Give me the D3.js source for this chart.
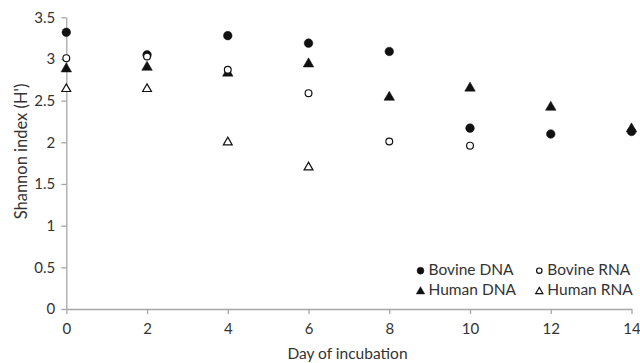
<!DOCTYPE html>
<html><head><meta charset="utf-8">
<script src="https://cdnjs.cloudflare.com/ajax/libs/d3/7.8.5/d3.min.js"></script>
<style>html,body{margin:0;padding:0;background:#fff}svg{display:block;font-family:Lato,"Open Sans",sans-serif}</style>
</head><body><svg id="c" width="640" height="363"></svg>
<script>
const days = [0,2,4,6,8,10,12,14];
const bovineDNA = [3.32,3.05,3.28,3.19,3.09,2.17,2.10,2.13];
const bovineRNA = [3.01,3.03,2.87,2.59,2.01,1.96,null,null];
const humanDNA  = [2.89,2.91,2.84,2.95,2.55,2.66,2.43,2.17];
const humanRNA  = [2.65,2.65,2.01,1.71,null,null,null,null];
const yTicks = [0,0.5,1,1.5,2,2.5,3,3.5];
const xTicks = [0,2,4,6,8,10,12,14];

const svg = d3.select("#c");
const x = d3.scaleLinear().domain([0,14]).range([66.3,631.5]);
const y = d3.scaleLinear().domain([0,3.5]).range([309,17.3]);
const axisCol = "#a6a6a6", textCol = "#333";

const gx = svg.append("g").attr("transform","translate(0,309)")
  .call(d3.axisBottom(x).tickValues(xTicks).tickFormat(d3.format("d")).tickSize(5).tickSizeOuter(0));
const gy = svg.append("g").attr("transform","translate(66.3,0)")
  .call(d3.axisLeft(y).tickValues(yTicks).tickFormat(d=>String(d)).tickSize(5).tickSizeOuter(0));
[gx,gy].forEach(g=>{
  g.selectAll("path,line").attr("stroke",axisCol).attr("stroke-width",1.3);
  g.selectAll("text").attr("fill",textCol).style("font-size","15px").style("font-family","Lato,sans-serif");
});
gx.selectAll("text").attr("dy","1.14em");
gy.selectAll("text").attr("dx","-0.2em");

svg.append("text").attr("x",347.5).attr("y",359).attr("text-anchor","middle")
  .attr("fill",textCol).style("font-size","15.5px").text("Day of incubation");
svg.append("text").attr("transform","translate(27,151.5) rotate(-90)").attr("text-anchor","middle")
  .attr("fill",textCol).style("font-size","16.5px").text("Shannon index (H')");

const series = [
  {name:"Bovine DNA", vals:bovineDNA, shape:"circle", fill:"#111"},
  {name:"Bovine RNA", vals:bovineRNA, shape:"circle", fill:"#fff"},
  {name:"Human DNA", vals:humanDNA, shape:"tri", fill:"#111"},
  {name:"Human RNA", vals:humanRNA, shape:"tri", fill:"#fff"}
];
function drawMarker(g, s, cx, cy, scale){
  if(s.shape==="circle"){
    g.append("circle").attr("cx",cx).attr("cy",cy).attr("r",(s.fill==="#fff"?3.4:4.3)*scale)
      .attr("fill",s.fill).attr("stroke","#111").attr("stroke-width",s.fill==="#fff"?1.2:0.5);
  } else {
    g.append("path").attr("d",d3.symbol().type(d3.symbolTriangle).size((s.fill==="#fff"?34:48)*scale*scale)())
      .attr("transform",`translate(${cx},${cy+0.8})`)
      .attr("fill",s.fill).attr("stroke","#111").attr("stroke-width",s.fill==="#fff"?1.2:0.5);
  }
}
const order = [series[2],series[0],series[3],series[1]];
order.forEach(s=>{
  const g = svg.append("g");
  days.forEach((d,i)=>{ if(s.vals[i]!=null) drawMarker(g,s,x(d),y(s.vals[i]),1); });
});

const leg = [
  {s:series[0], x:420.5, y:270.7},{s:series[1], x:539.3, y:270.7},
  {s:series[2], x:420.5, y:290.7},{s:series[3], x:539.3, y:290.7}
];
leg.forEach(l=>{
  const g = svg.append("g");
  drawMarker(g,l.s,l.x,l.y,0.8);
  g.append("text").attr("x",l.x+8).attr("y",l.y+4.5).attr("fill",textCol).style("font-size","15.5px").text(l.s.name);
});
</script></body></html>
